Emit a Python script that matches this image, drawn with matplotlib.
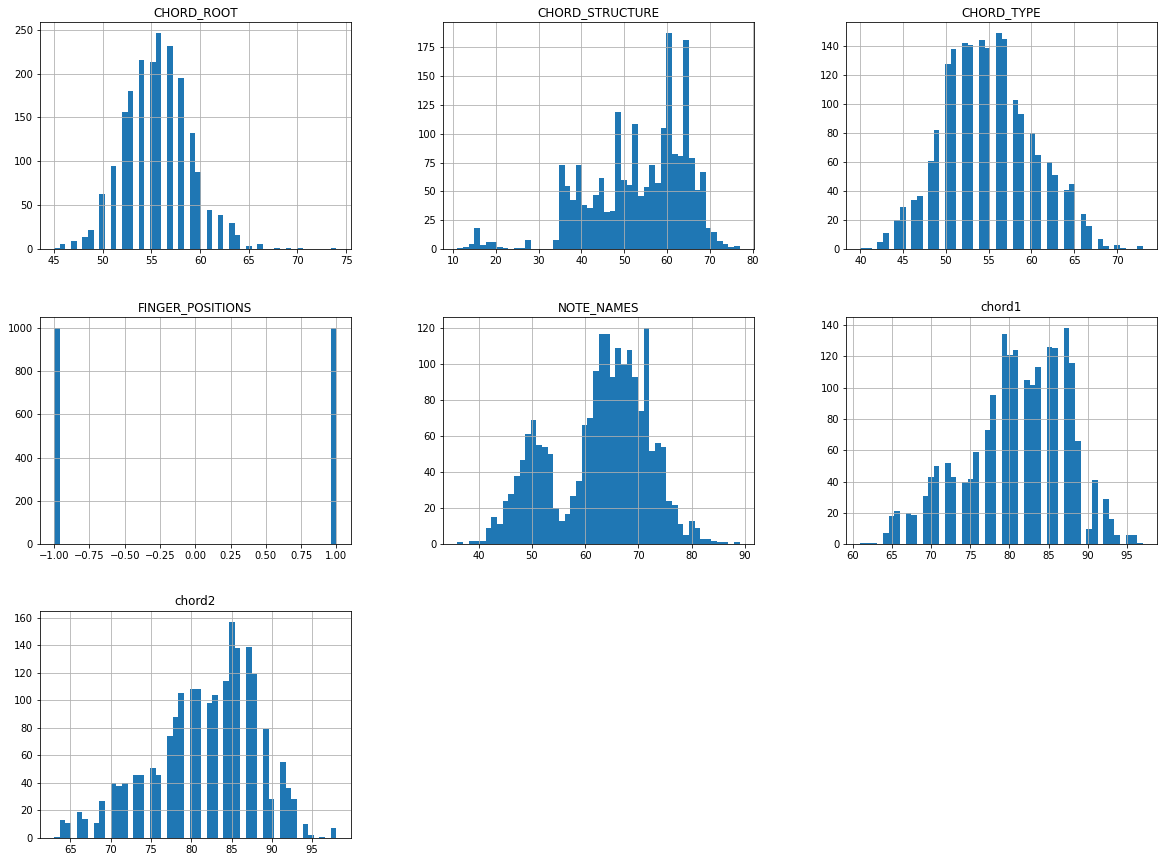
import numpy as np
import matplotlib
matplotlib.use("Agg")
import matplotlib.pyplot as plt

# ---- data (integer value -> count) ----
chord_root_values = list(range(45, 75))
chord_root_counts = [1, 6, 9, 14, 22, 63, 95, 156, 180, 215, 213, 246, 231, 195, 132,
                     88, 45, 39, 30, 16, 4, 6, 0, 2, 1, 2, 0, 0, 0, 1]

# per-bin counts (50 bins over the data range)
chord_structure_range = (11, 77)
chord_structure_bins = [1, 2, 5, 18, 4, 6, 6, 2, 1, 0,
                        1, 1, 8, 0, 0, 0, 0, 8, 73, 55,
                        43, 73, 38, 36, 47, 62, 32, 33, 119, 60,
                        56, 108, 46, 54, 73, 57, 105, 187, 82, 81,
                        181, 79, 51, 67, 18, 15, 7, 5, 2, 3]

chord_type_values = list(range(40, 74))
chord_type_counts = [1, 1, 5, 11, 20, 29, 34, 37, 61, 82,
                     128, 138, 142, 141, 144, 139, 149, 145, 103, 93,
                     80, 65, 60, 51, 41, 45, 24, 16, 7, 2,
                     3, 1, 0, 2]

finger_values = [-1, 1]
finger_counts = [998, 998]

note_names_range = (36, 89)
note_names_bins = [1, 0, 2, 2, 2, 9, 15, 11, 24, 28,
                   38, 47, 61, 69, 55, 54, 50, 20, 13, 17,
                   27, 35, 66, 70, 96, 117, 117, 93, 109, 100,
                   108, 93, 74, 120, 52, 56, 54, 24, 22, 11,
                   5, 13, 9, 3, 3, 2, 1, 1, 0, 1]

chord1_values = list(range(61, 98))
chord1_counts = [1, 1, 1, 7, 18, 21, 20, 19, 31, 43,
                 50, 52, 43, 40, 42, 59, 73, 95, 134, 121,
                 124, 105, 102, 113, 126, 125, 138, 116, 66, 10,
                 41, 29, 16, 6, 6, 6, 1]

chord2_values = list(range(63, 99))
chord2_counts = [1, 13, 11, 19, 14, 11, 27, 40, 38, 40,
                 46, 46, 51, 46, 74, 88, 105, 108, 108, 98,
                 104, 114, 157, 138, 139, 119, 79, 28, 55, 36,
                 28, 10, 2, 1, 0, 7]

titles = ["CHORD_ROOT", "CHORD_STRUCTURE", "CHORD_TYPE",
          "FINGER_POSITIONS", "NOTE_NAMES", "chord1", "chord2"]

W, H = 1162, 862
fig = plt.figure(figsize=(W / 72, H / 72), dpi=72)

col_left = [40, 443.3, 846.3]
row_top = [22.3, 317.3, 611]
aw, ah = 310.5, 227


def make_ax(r, c):
    l = col_left[c]
    t = row_top[r]
    return fig.add_axes([l / W, 1 - (t + ah) / H, aw / W, ah / H])


def hist_values(ax, values, counts):
    ax.hist(values, bins=50, range=(min(values), max(values)), weights=counts)


def hist_bins(ax, rng, counts):
    edges = np.linspace(rng[0], rng[1], len(counts) + 1)
    centers = (edges[:-1] + edges[1:]) / 2
    ax.hist(centers, bins=edges, weights=counts)


panels = [
    (0, 0, lambda ax: hist_values(ax, chord_root_values, chord_root_counts)),
    (0, 1, lambda ax: hist_bins(ax, chord_structure_range, chord_structure_bins)),
    (0, 2, lambda ax: hist_values(ax, chord_type_values, chord_type_counts)),
    (1, 0, lambda ax: hist_values(ax, finger_values, finger_counts)),
    (1, 1, lambda ax: hist_bins(ax, note_names_range, note_names_bins)),
    (1, 2, lambda ax: hist_values(ax, chord1_values, chord1_counts)),
    (2, 0, lambda ax: hist_values(ax, chord2_values, chord2_counts)),
]

for (r, c, draw), title in zip(panels, titles):
    ax = make_ax(r, c)
    draw(ax)
    ax.grid(True)
    ax.set_title(title)

fig.savefig("out.png", dpi=72, facecolor="white")
